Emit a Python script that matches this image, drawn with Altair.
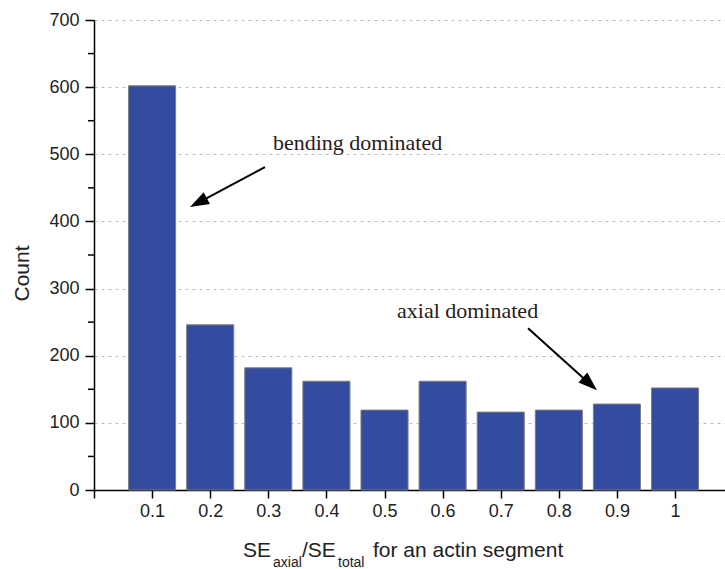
import altair as alt
import pandas as pd

# ---- data ----
bin_centers = [0.1, 0.2, 0.3, 0.4, 0.5, 0.6, 0.7, 0.8, 0.9, 1.0]
counts = [602, 246, 182, 162, 119, 162, 116, 119, 128, 152]

y_major = [0, 100, 200, 300, 400, 500, 600, 700]
y_minor = [50, 150, 250, 350, 450, 550, 650]
x_ticks = [0.0, 0.1, 0.2, 0.3, 0.4, 0.5, 0.6, 0.7, 0.8, 0.9, 1.0]

ann_text = ["bending dominated", "axial dominated"]
ann_x = [0.308, 0.5215]
ann_y = [506, 256]

arrow_x0 = [0.2943, 0.747]
arrow_y0 = [481, 241]
arrow_x1 = [0.1797, 0.8535]
arrow_y1 = [428, 158]
arrow_angle = [242, 132]

bars = pd.DataFrame({"center": bin_centers, "count": counts})
minor = pd.DataFrame({"v": y_minor})
ann = pd.DataFrame({"t": ann_text, "x": ann_x, "y": ann_y})
arrows = pd.DataFrame({"x0": arrow_x0, "y0": arrow_y0, "x1": arrow_x1,
                       "y1": arrow_y1, "a": arrow_angle})

xs = alt.Scale(domain=[0, 1.086], nice=False, zero=False)
ys = alt.Scale(domain=[0, 700], nice=False)

FONT = "Liberation Sans"
TXT = "#222222"

bar_layer = alt.Chart(bars).transform_calculate(
    left="datum.center - 0.0405", right="datum.center + 0.0405"
).mark_bar(color="#344ca0", stroke="#7d7d7d", strokeWidth=1).encode(
    x=alt.X("left:Q", scale=xs, axis=alt.Axis(
        values=x_ticks, title=None, grid=False, tickSize=8,
        labelExpr="datum.value == 0 ? '' : format(datum.value, '~g')",
        labelFontSize=18, labelPadding=4)),
    x2="right:Q",
    y=alt.Y("count:Q", scale=ys, axis=alt.Axis(
        values=y_major, title="Count", tickSize=9, labelFontSize=18,
        labelPadding=6, grid=True, gridDash=[3, 4], gridColor="#bdbdbd",
        gridWidth=1, titleFontSize=21, titleX=-72, titleY=253,
        titleAngle=-90, titleBaseline="middle", titleAlign="center")),
    y2=alt.datum(0),
)

minor_layer = alt.Chart(minor).mark_rule(color="black", strokeWidth=1.5).encode(
    y=alt.Y("v:Q", scale=ys), x=alt.value(-6), x2=alt.value(0)
)

arrow_lines = alt.Chart(arrows).mark_rule(color="black", strokeWidth=2).encode(
    x=alt.X("x0:Q", scale=xs), y=alt.Y("y0:Q", scale=ys),
    x2="x1:Q", y2="y1:Q"
)

arrow_heads = alt.Chart(arrows).mark_point(
    shape="M0,-1L-0.7,1L0.7,1Z", filled=True, color="black", opacity=1,
    size=361
).encode(
    x=alt.X("x1:Q", scale=xs), y=alt.Y("y1:Q", scale=ys),
    angle=alt.Angle("a:Q", scale=None)
)

ann_layer = alt.Chart(ann).mark_text(
    font="Liberation Serif", fontSize=22, align="left", baseline="alphabetic",
    color="#2a1a1a"
).encode(x=alt.X("x:Q", scale=xs), y=alt.Y("y:Q", scale=ys), text="t:N")

# x-axis title with subscripts
title_parts = [
    ("SE", 149, 537, 21),
    ("axial", 179, 547, 14),
    ("/SE", 208, 537, 21),
    ("total", 244, 547, 14),
    ("for an actin segment", 279, 537, 21),
]
title_layers = []
for txt, px, py, fs in title_parts:
    title_layers.append(
        alt.Chart(pd.DataFrame({"t": [txt]})).mark_text(
            font=FONT, fontSize=fs, align="left", baseline="alphabetic",
            color=TXT
        ).encode(text="t:N", x=alt.value(px), y=alt.value(py))
    )

chart = alt.layer(
    bar_layer, minor_layer, arrow_lines, arrow_heads, ann_layer, *title_layers
).properties(
    width=631, height=470,
    autosize=alt.AutoSizeParams(type="none"),
    padding={"left": 94, "top": 20, "right": 0, "bottom": 79},
    background="white",
).configure_view(stroke=None).configure_axis(
    labelFont=FONT, titleFont=FONT, labelColor=TXT, titleColor=TXT,
    domainColor="black", tickColor="black", domainWidth=1.5, tickWidth=1.5,
    titleFontWeight="normal"
)

chart.save("out.html", embed_options={"renderer": "svg", "actions": False})
